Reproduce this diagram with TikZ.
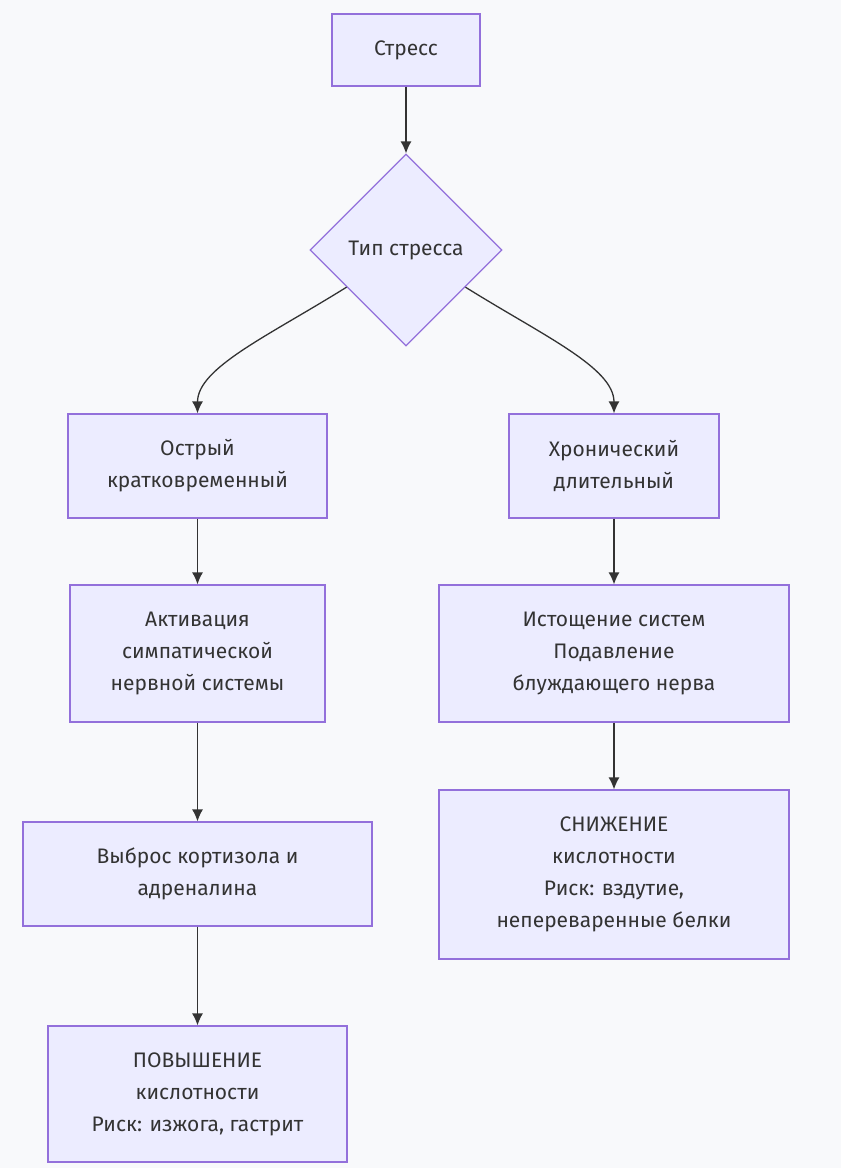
\documentclass[tikz,border=0pt]{standalone}
\usepackage{fontspec}
\setmainfont{Fira Sans}
\usetikzlibrary{shapes.geometric}
\usetikzlibrary{arrows.meta}
\definecolor{bgcol}{HTML}{F8F9FB}
\definecolor{boxfill}{HTML}{ECECFF}
\definecolor{boxline}{HTML}{9370DB}
\definecolor{inkcol}{HTML}{333333}
\begin{document}
\begin{tikzpicture}[every node/.style={inner sep=0pt,text=inkcol,align=center,
	font=\fontsize{21pt}{32pt}\selectfont},
	box/.style={rectangle, fill=boxfill, draw=boxline, line width=1.2pt},
	every edge/.style={
	draw,line width=1.3pt, -{Latex[length=12pt,width=11pt]},color=inkcol}
]%background and page size
\fill[bgcol] (0pt,0pt) rectangle (841pt,-1168pt);
\node (stress) [box, minimum width=148pt, minimum height=72pt] at (406.0pt, -50.0pt) {Стресс};
\node (type) [diamond, aspect=1, minimum size=192pt, fill=boxfill, draw=boxline, line width=1.2pt] at (406.0pt, -250.0pt) {Тип стресса};
\node (acute) [box, minimum width=259pt, minimum height=104pt] at (197.5pt, -466.0pt) {Острый\\кратковременный};
\node (chronic) [box, minimum width=210pt, minimum height=104pt] at (614.0pt, -466.0pt) {Хронический\\длительный};
\node (symp) [box, minimum width=255pt, minimum height=137pt] at (197.5pt, -653.5pt) {Активация\\симпатической\\нервной системы};
\node (exhaust) [box, minimum width=350pt, minimum height=137pt] at (614.0pt, -653.5pt) {Истощение систем\\Подавление\\блуждающего нерва};
\node (cortisol) [box, minimum width=349pt, minimum height=104pt] at (197.5pt, -874.0pt) {Выброс кортизола и\\адреналина};
\node (low) [box, minimum width=350pt, minimum height=169pt] at (614.0pt, -874.5pt) {СНИЖЕНИЕ\\кислотности\\Риск: вздутие,\\непереваренные белки};
\node (high) [box, minimum width=299pt, minimum height=136pt] at (197.5pt, -1094.0pt) {ПОВЫШЕНИЕ\\кислотности\\Риск: изжога, гастрит};
\path 
(stress) edge (type)
(type) edge [out=-148, in=90, out looseness=1.2, in looseness=0.6] (acute)
(type) edge [out=-32, in=90, out looseness=1.2, in looseness=0.6] (chronic)
(acute) edge (symp)
(symp) edge (cortisol)
(cortisol) edge (high)
(chronic) edge (exhaust)
(exhaust) edge (low);
\end{tikzpicture}
\end{document}
